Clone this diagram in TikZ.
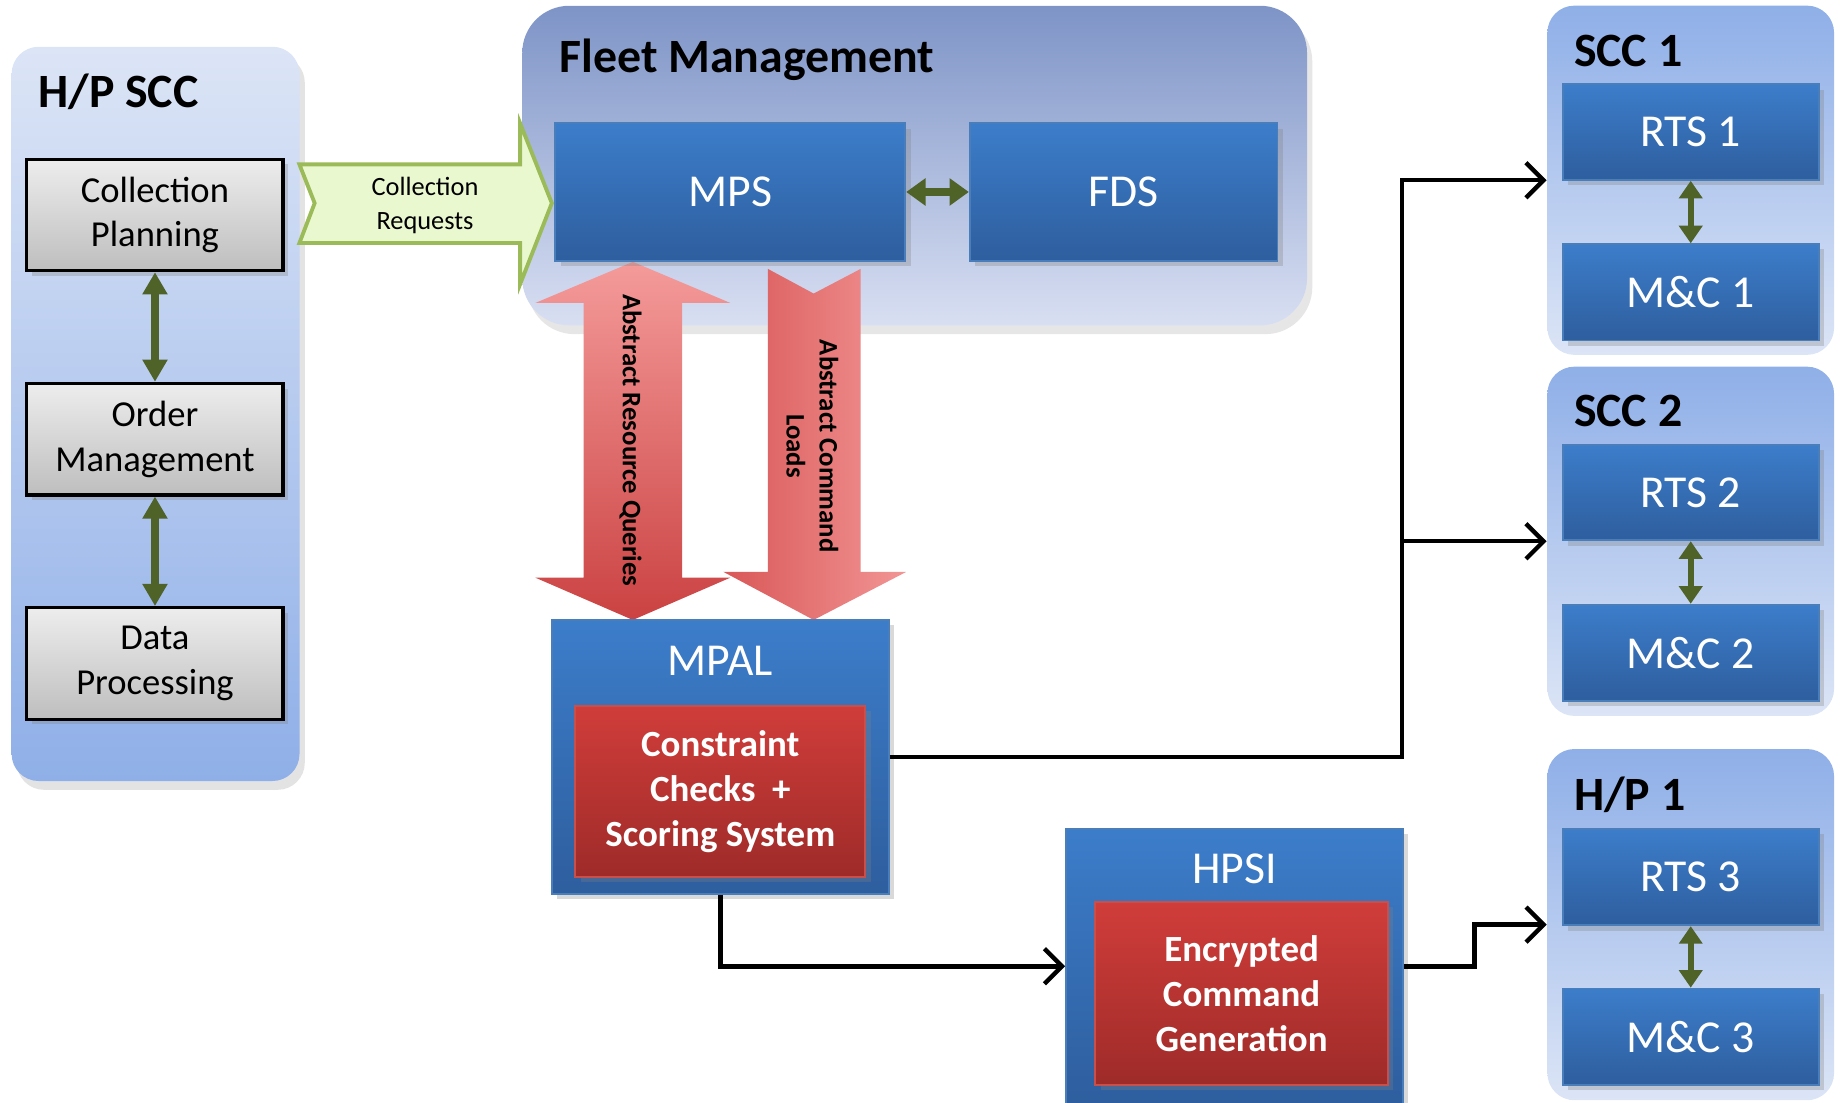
\documentclass[tikz,border=0pt]{standalone}
\usepackage{fontspec}
\setmainfont{Carlito}
\usepackage{xcolor}
\usetikzlibrary{shapes,arrows.meta,positioning,fit,backgrounds,calc,shadows}

\definecolor{panellight}{HTML}{DCE5F6}
\definecolor{paneldark}{HTML}{8FAFE8}
\definecolor{fleettop}{HTML}{7E94C7}
\definecolor{fleetbot}{HTML}{D8DFF2}
\definecolor{blueT}{HTML}{3C7DCA}
\definecolor{blueB}{HTML}{2E5E9E}
\definecolor{blueedge}{HTML}{4A7EBB}
\definecolor{redT}{HTML}{D03D3A}
\definecolor{redB}{HTML}{9E2B29}
\definecolor{rededge}{HTML}{C8504C}
\definecolor{grayT}{HTML}{EDEDED}
\definecolor{grayB}{HTML}{BEBEBE}
\definecolor{linkgreen}{HTML}{4F6228}
\definecolor{reqfill}{HTML}{EAF8D0}
\definecolor{reqedge}{HTML}{9BBB59}
\definecolor{pinkT}{HTML}{F49B9A}
\definecolor{pinkB}{HTML}{CB4242}
\definecolor{pinkL}{HTML}{D95757}
\definecolor{pinkR}{HTML}{F29595}

\begin{document}
\begin{tikzpicture}[
    x=0.011741cm, y=-0.011741cm,
    font=\fontsize{10.4}{12.7}\selectfont,
    panel/.style={rectangle, rounded corners=0.27cm, minimum width=2.865cm, minimum height=3.49cm},
    sccpanel/.style={panel, top color=paneldark, bottom color=panellight},
    hppanel/.style={panel, top color=panellight, bottom color=paneldark, drop shadow={opacity=0.22, shadow xshift=1.5pt, shadow yshift=-2.5pt}},
    fleetpanel/.style={panel, rounded corners=0.47cm, top color=fleettop, bottom color=fleetbot, drop shadow={opacity=0.2, shadow xshift=1.5pt, shadow yshift=-2.5pt}},
    head/.style={font=\bfseries\fontsize{13.6}{16}\selectfont, anchor=west, inner sep=0pt},
    graybox/.style={rectangle, draw=black, line width=0.9pt, top color=grayT, bottom color=grayB, minimum width=2.56cm, minimum height=1.115cm, align=center, drop shadow={opacity=0.3, shadow xshift=1.5pt, shadow yshift=-1.5pt}},
    bluebox/.style={rectangle, draw=blueedge, line width=0.5pt, top color=blueT, bottom color=blueB, text=white, font=\fontsize{13}{15.6}\selectfont, drop shadow={opacity=0.3, shadow xshift=1.5pt, shadow yshift=-1.5pt}},
    redbox/.style={rectangle, draw=rededge, line width=0.6pt, top color=redT, bottom color=redB, text=white, align=center, font=\bfseries\fontsize{10.5}{12.8}\selectfont, drop shadow={opacity=0.3, shadow xshift=1.5pt, shadow yshift=-1.5pt}},
    boxtitle/.style={text=white, font=\fontsize{13}{15.6}\selectfont, inner sep=0pt},
    arrowtext/.style={font=\bfseries\fontsize{7.6}{9.4}\selectfont, rotate=-90, align=center, inner sep=0pt},
    link/.style={-{Straight Barb[length=5pt, width=10pt]}, line width=1.25pt},
    bigtwo/.style={{Triangle[width=6.8pt, length=6.3pt]}-{Triangle[width=6.8pt, length=6.3pt]}, line width=2.2pt, draw=linkgreen},
    smalltwo/.style={{Triangle[width=6.5pt, length=5pt]}-{Triangle[width=6.5pt, length=5pt]}, line width=1.7pt, draw=linkgreen},
]
\useasboundingbox (0,0) rectangle (1568,939);

% H/P SCC panel
\node[hppanel, minimum width=2.877cm, minimum height=7.338cm] (hpscc) at (132.5,352.5) {};
\node[head] (hpscctitle) at (32,78) {H/P SCC};
\node[graybox] (plan) at (132,183) {Collection\\Planning};
\node[graybox] (order) at (132,374) {Order\\Management};
\node[graybox] (proc) at (132,565) {Data\\Processing};
\draw[bigtwo] (plan) -- (order);
\draw[bigtwo] (order) -- (proc);

% Fleet Management panel
\node[fleetpanel, minimum width=7.843cm, minimum height=3.194cm] (fleet) at (779,141) {};
\node[head] (fleettitle) at (476,51) {Fleet Management};

% Collection Requests arrow
\draw[fill=reqfill, draw=reqedge, line width=1.1pt, line join=miter]
    (255,140) -- (443,140) -- (443,105) -- (470,173) -- (443,242) -- (443,207) -- (255,207) -- (268,173) -- cycle;
\node[font=\fontsize{7.5}{9.4}\selectfont, align=center] (reqtext) at (362,175) {Collection\\Requests};

% Query and load arrows
\shade[top color=pinkT, bottom color=pinkB]
    (539,223) -- (622,258) -- (581,258) -- (581,492) -- (622,492) -- (539,528) -- (456,492) -- (497,492) -- (497,258) -- (456,258) -- cycle;
\shade[left color=pinkL, right color=pinkR]
    (654,229) -- (693,250) -- (733,229) -- (733,487) -- (772,487) -- (693,528) -- (616,487) -- (654,487) -- cycle;
\node[arrowtext] (querytext) at (537,375) {Abstract Resource Queries};
\node[arrowtext] (loadtext) at (692,380) {Abstract Command\\Loads};

% Fleet boxes
\node[bluebox, minimum width=3.499cm, minimum height=1.374cm] (mps) at (622,163.5) {MPS};
\node[bluebox, minimum width=3.076cm, minimum height=1.374cm] (fds) at (957,163.5) {FDS};
\draw[bigtwo, {Triangle[width=7.5pt, length=5.5pt]}-{Triangle[width=7.5pt, length=5.5pt]}, line width=2pt] (mps) -- (fds);

% MPAL
\node[bluebox, minimum width=3.370cm, minimum height=2.736cm] (mpal) at (613.5,644.5) {};
\node[boxtitle] (mpaltitle) at (613.5,563) {MPAL};
\node[redbox, minimum width=2.900cm, minimum height=1.714cm] (checks) at (613.5,674) {Constraint\\Checks\ \ +\\Scoring System};

% HPSI
\node[bluebox, minimum width=3.370cm, minimum height=2.747cm] (hpsi) at (1051.5,823) {};
\node[boxtitle] (hpsititle) at (1051.5,740) {HPSI};
\node[redbox, minimum width=2.924cm, minimum height=1.832cm] (encrypt) at (1057.5,846) {Encrypted\\Command\\Generation};

% SCC 1
\node[sccpanel] (scc1) at (1440,153.5) {};
\node[head] (scc1title) at (1340,43) {SCC 1};
\node[bluebox, minimum width=2.56cm, minimum height=0.955cm] (rts1) at (1440,112.5) {RTS 1};
\node[bluebox, minimum width=2.56cm, minimum height=0.963cm] (mc1) at (1440,249) {M\&C 1};
\draw[smalltwo] (rts1) -- (mc1);

% SCC 2
\node[sccpanel] (scc2) at (1440,461) {};
\node[head] (scc2title) at (1340,350) {SCC 2};
\node[bluebox, minimum width=2.56cm, minimum height=0.955cm] (rts2) at (1440,419.5) {RTS 2};
\node[bluebox, minimum width=2.56cm, minimum height=0.963cm] (mc2) at (1440,556) {M\&C 2};
\draw[smalltwo] (rts2) -- (mc2);

% H/P 1
\node[sccpanel, minimum height=3.51cm] (hp1) at (1440,787.5) {};
\node[head] (hp1title) at (1340,677) {H/P 1};
\node[bluebox, minimum width=2.56cm, minimum height=0.963cm] (rts3) at (1440,747) {RTS 3};
\node[bluebox, minimum width=2.56cm, minimum height=0.963cm] (mc3) at (1440,883) {M\&C 3};
\draw[smalltwo] (rts3) -- (mc3);

% Links
\draw[link] (mpal.east) -- ++(436,0) |- (scc1.west);
\draw[link] (mpal.east) -- ++(436,0) |- (scc2.west);
\draw[link] (mpal.south) |- (hpsi.west);
\draw[link] (hpsi.east) -- ++(60,0) |- (hp1.west);

\end{tikzpicture}
\end{document}
